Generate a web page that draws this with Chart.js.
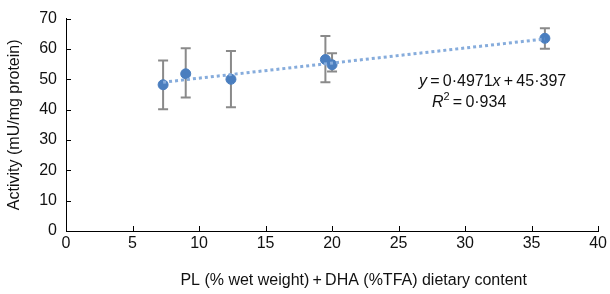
<!DOCTYPE html>
<html>
<head>
<meta charset="utf-8">
<script src="https://cdn.jsdelivr.net/npm/chart.js@4.4.0/dist/chart.umd.min.js"></script>
<style>
  html, body { margin: 0; padding: 0; background: #fff; }
  #wrap { width: 610px; height: 294px; }
</style>
</head>
<body>
<div id="wrap"><canvas id="chart" width="610" height="294"></canvas></div>
<script>
// values
const dietContent = [7.3, 9.0, 12.4, 19.5, 20.0, 36.0];
const activity    = [48.2, 51.8, 50.0, 56.5, 54.8, 63.5];
const errLow      = [40.1, 44.0, 40.8, 49.0, 52.6, 60.1];
const errHigh     = [56.2, 60.2, 59.3, 64.3, 58.6, 66.8];
// regression shown on the chart
const slope = 0.4971;
const intercept = 45.397;
const rSquared = 0.934;

const FONT = '"Liberation Sans", Arial, sans-serif';
const TS = "\u2009"; // thin space

const points = dietContent.map((x, i) => ({ x: x, y: activity[i] }));
const xMin = Math.min(...dietContent), xMax = Math.max(...dietContent);
const trend = [
  { x: xMin, y: slope * xMin + intercept },
  { x: xMax, y: slope * xMax + intercept }
];

const errorBars = {
  id: "errorBars",
  beforeDatasetsDraw(chart) {
    const { ctx, scales: { x, y } } = chart;
    ctx.save();
    ctx.strokeStyle = "#8a8a8a";
    ctx.lineWidth = 2;
    dietContent.forEach((v, i) => {
      const px = x.getPixelForValue(v);
      const top = y.getPixelForValue(errHigh[i]);
      const bot = y.getPixelForValue(errLow[i]);
      ctx.beginPath();
      ctx.moveTo(px, top); ctx.lineTo(px, bot);
      ctx.moveTo(px - 5, top); ctx.lineTo(px + 5, top);
      ctx.moveTo(px - 5, bot); ctx.lineTo(px + 5, bot);
      ctx.stroke();
    });
    ctx.restore();
  },
  afterDraw(chart) {
    const { ctx, scales: { x, y } } = chart;
    ctx.save();
    // inward tick marks
    ctx.strokeStyle = "#000";
    ctx.lineWidth = 1;
    ctx.beginPath();
    x.ticks.forEach(t => {
      const px = Math.round(x.getPixelForValue(t.value)) + 0.5;
      ctx.moveTo(px, y.bottom); ctx.lineTo(px, y.bottom - 5);
    });
    y.ticks.forEach(t => {
      const py = Math.round(y.getPixelForValue(t.value)) + 0.5;
      ctx.moveTo(x.left, py); ctx.lineTo(x.left + 5, py);
    });
    ctx.stroke();

    // equation label
    ctx.fillStyle = "#111";
    ctx.textBaseline = "alphabetic";
    const drawParts = (parts, xRight, base) => {
      let w = 0;
      parts.forEach(p => { ctx.font = p.f; w += ctx.measureText(p.t).width; });
      let cx = xRight - w;
      parts.forEach(p => {
        ctx.font = p.f;
        ctx.fillText(p.t, cx, base + (p.dy || 0));
        cx += ctx.measureText(p.t).width;
      });
    };
    const n = "16px " + FONT, it = "italic 16px " + FONT, sm = "11px " + FONT;
    drawParts([
      { t: "y", f: it }, { t: TS + "=" + TS + "0·4971", f: n }, { t: "x", f: it },
      { t: TS + "+" + TS + intercept.toString().replace(".", "·"), f: n }
    ], x.getPixelForValue(37.6), y.getPixelForValue(47.8));
    drawParts([
      { t: "R", f: it }, { t: "2", f: sm, dy: -7 },
      { t: TS + "=" + TS + rSquared.toString().replace(".", "·"), f: n }
    ], x.getPixelForValue(33.1), y.getPixelForValue(41.0));
    ctx.restore();
  }
};

new Chart(document.getElementById("chart").getContext("2d"), {
  type: "scatter",
  data: {
    datasets: [
      {
        type: "line",
        data: trend,
        borderColor: "#86acdc",
        borderWidth: 3,
        borderDash: [3, 3],
        pointRadius: 0,
        fill: false
      },
      {
        data: points,
        backgroundColor: "#4a7ebf",
        borderColor: "#4a7ebf",
        pointRadius: 5,
        pointHoverRadius: 5
      }
    ]
  },
  options: {
    responsive: false,
    animation: false,
    layout: { padding: { top: 11, right: 11, left: 0, bottom: 0 } },
    plugins: { legend: { display: false }, tooltip: { enabled: false } },
    scales: {
      x: {
        type: "linear",
        min: 0, max: 40,
        ticks: { stepSize: 5, color: "#111", font: { family: FONT, size: 16 }, padding: 3 },
        grid: { display: false, drawTicks: false },
        border: { display: true, color: "#000", width: 1 },
        title: {
          display: true,
          // leading en spaces nudge the centred title right, as in the original
          text: "\u2002".repeat(5) + TS + "PL (% wet weight)" + TS + "+" + TS + "DHA (%TFA) dietary content",
          color: "#111",
          font: { family: FONT, size: 16 },
          padding: { top: 8 }
        },
        afterFit: s => { s.height = 63; }
      },
      y: {
        min: 0, max: 70,
        ticks: { stepSize: 10, color: "#111", font: { family: FONT, size: 16 }, padding: 9 },
        grid: { display: false, drawTicks: false },
        border: { display: true, color: "#000", width: 1 },
        title: {
          display: true,
          text: "Activity (mU/mg protein)",
          color: "#111",
          font: { family: FONT, size: 16 },
          padding: { top: 5, bottom: 0 }
        },
        afterFit: s => { s.width = 66; }
      }
    }
  },
  plugins: [errorBars]
});
</script>
</body>
</html>
